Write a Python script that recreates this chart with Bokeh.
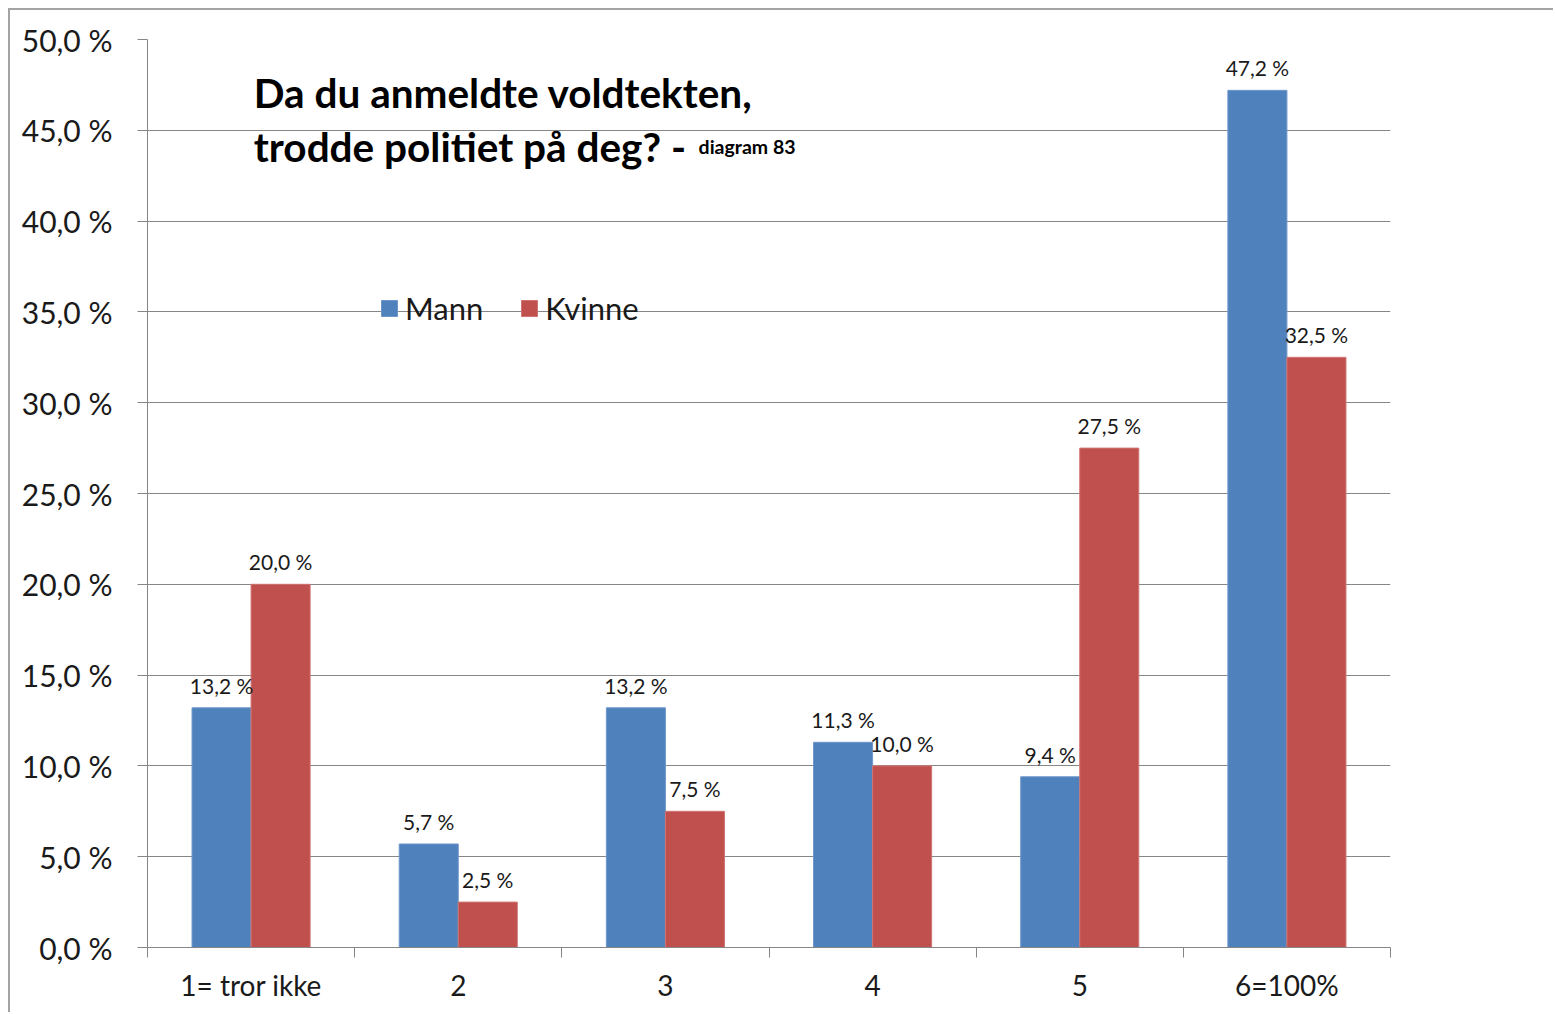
import numpy as np
from bokeh.plotting import figure
from bokeh.models import FixedTicker, Label, Legend, LegendItem, ColumnDataSource
from bokeh.core.properties import value
from bokeh.embed import file_html
from bokeh.resources import INLINE

categories = ["1= tror ikke", "2", "3", "4", "5", "6=100%"]
mann = [13.2, 5.7, 13.2, 11.3, 9.4, 47.2]
kvinne = [20.0, 2.5, 7.5, 10.0, 27.5, 32.5]
series_names = ["Mann", "Kvinne"]
y_ticks = [0, 5, 10, 15, 20, 25, 30, 35, 40, 45, 50]

FONT = "Lato"
TXT = "#1a1a1a"
GRID = "#868686"
BLUE = "#4F81BD"
RED = "#C0504D"

def pct(v):
    return f"{v:.1f} %".replace(".", ",")

p = figure(width=1545, height=1004, x_range=(0, len(categories)), y_range=(0, 50),
           output_backend="svg", toolbar_location=None,
           min_border_left=137, min_border_right=165, min_border_top=29, min_border_bottom=67)
p.margin = (8, 0, 0, 8)
p.styles = {"border-left": "2px solid #a3a3a3", "border-top": "2px solid #a3a3a3"}
p.outline_line_color = None
p.background_fill_color = "white"
p.border_fill_color = "white"

centers = np.arange(len(categories)) + 0.5
bw = 0.285
src = ColumnDataSource(dict(
    xm=centers - bw / 2, xk=centers + bw / 2,
    mann=mann, kvinne=kvinne,
    lm=[pct(v) for v in mann], lk=[pct(v) for v in kvinne]))

rm = p.vbar(x="xm", top="mann", width=bw, bottom=0, source=src, fill_color=BLUE, line_color="#6d97cb", line_width=1)
rk = p.vbar(x="xk", top="kvinne", width=bw, bottom=0, source=src, fill_color=RED, line_color="#cf7472", line_width=1)

for xcol, ycol, lcol in (("xm", "mann", "lm"), ("xk", "kvinne", "lk")):
    p.text(x=xcol, y=ycol, text=lcol, source=src, text_align="center", text_baseline="bottom",
           y_offset=-10, text_font=value(FONT), text_font_size="21px", text_color=TXT)

# axes
p.yaxis.ticker = FixedTicker(ticks=y_ticks)
p.yaxis.major_label_overrides = {t: pct(t) for t in y_ticks}
p.yaxis.major_tick_out = 10
p.yaxis.major_tick_in = 0
p.yaxis.major_label_standoff = 25
p.xaxis.ticker = FixedTicker(ticks=list(centers), minor_ticks=list(range(len(categories) + 1)))
p.xaxis.major_label_overrides = {float(c): lab for c, lab in zip(centers, categories)}
p.xaxis.major_tick_out = 0
p.xaxis.major_tick_in = 0
p.xaxis.minor_tick_out = 10
p.xaxis.minor_tick_in = 0
p.xaxis.major_label_standoff = 10
for ax in (p.xaxis, p.yaxis):
    ax.axis_line_color = GRID
    ax.major_tick_line_color = GRID
    ax.major_label_text_font = FONT
    ax.major_label_text_color = TXT
    ax.major_label_text_font_style = "normal"
p.xaxis.minor_tick_line_color = GRID
p.yaxis.minor_tick_line_color = None
p.xaxis.major_label_text_font_size = "28px"
p.yaxis.major_label_text_font_size = "30px"

p.xgrid.grid_line_color = None
p.ygrid.ticker = FixedTicker(ticks=y_ticks[1:])
p.ygrid.grid_line_color = GRID
p.ygrid.grid_line_width = 1

# title
p.add_layout(Label(x=0.513, y=47.06, text="Da du anmeldte voldtekten,", text_font=FONT,
                   text_font_size="40.5px", text_font_style="bold", text_color="black",
                   text_baseline="alphabetic"))
p.add_layout(Label(x=0.513, y=44.1, text="trodde  politiet på deg? -", text_font=FONT,
                   text_font_size="40.5px", text_font_style="bold", text_color="black",
                   text_baseline="alphabetic"))
p.add_layout(Label(x=2.66, y=44.1, text="diagram 83", text_font=FONT,
                   text_font_size="19.5px", text_font_style="bold", text_color="black",
                   text_baseline="alphabetic"))

legend = Legend(items=[LegendItem(label=series_names[0], renderers=[rm]),
                       LegendItem(label=series_names[1], renderers=[rk])],
                orientation="horizontal", location=(232, 620))
legend.background_fill_alpha = 0
legend.border_line_color = None
legend.padding = 0
legend.margin = 0
legend.spacing = 36
legend.glyph_width = 20
legend.glyph_height = 20
legend.label_standoff = 6
legend.label_text_font = FONT
legend.label_text_font_size = "31px"
legend.label_text_color = TXT
p.add_layout(legend)

open("out.html", "w").write(file_html(p, INLINE))
